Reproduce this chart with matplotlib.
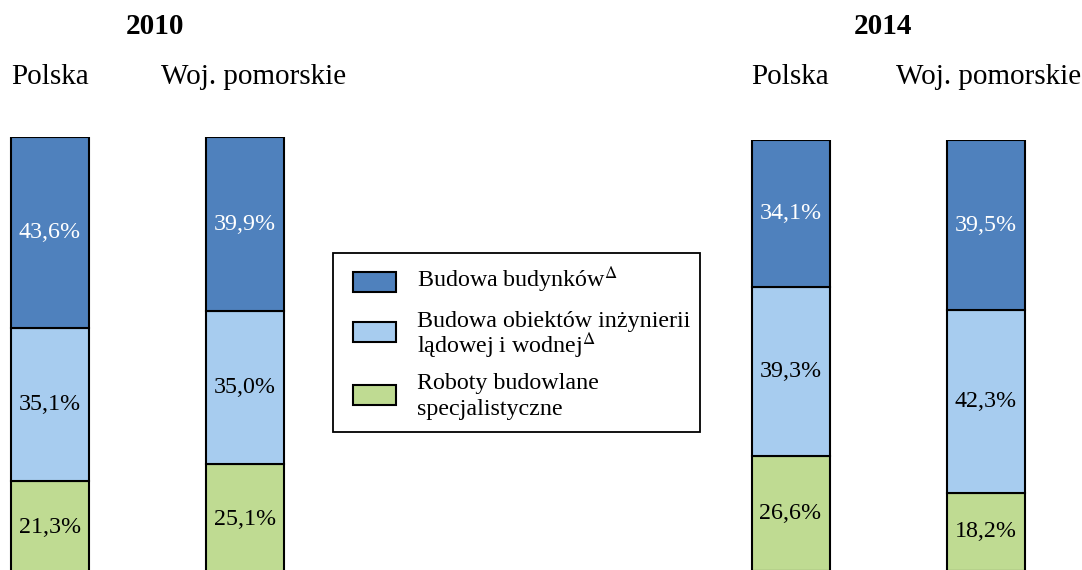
import numpy as np
import matplotlib
matplotlib.use('Agg')
import matplotlib.pyplot as plt
from matplotlib.patches import Rectangle

plt.rcParams['font.family'] = ['Liberation Serif', 'DejaVu Serif']
plt.rcParams['mathtext.fontset'] = 'stix'

# ── data ────────────────────────────────────────────────
years = ['2010', '2014']
regions = ['Polska', 'Woj. pomorskie']
categories = [
    'Roboty budowlane\nspecjalistyczne',
    'Budowa obiektów inżynierii\nlądowej i wodnej$^{\\Delta}$',
    'Budowa budynków$^{\\Delta}$',
]
# shares per year: rows = [Polska, Woj. pomorskie], cols = bottom -> top
shares_2010 = [[21.3, 35.1, 43.6],
               [25.1, 35.0, 39.9]]
shares_2014 = [[26.6, 39.3, 34.1],
               [18.2, 42.3, 39.5]]

colors = ['#BFDB92', '#A7CCEF', '#4F81BD']
text_colors = ['black', 'black', 'white']

W, H = 1082, 570
fig = plt.figure(figsize=(W / 100, H / 100), dpi=100)


def px_axes(left, top, right, bottom):
    return fig.add_axes([left / W, 1 - bottom / H, (right - left) / W, (bottom - top) / H])


def draw_group(ax, shares, first_center_px, ax_left_px, ax_right_px, step_px):
    x = np.arange(len(regions))
    base = np.zeros(len(regions))
    vals = np.array(shares)
    for k in range(len(categories)):
        ax.bar(x, vals[:, k], bottom=base, width=0.4, color=colors[k],
               edgecolor='black', linewidth=1.5)
        for i in x:
            ax.text(i, base[i] + vals[i, k] / 2, f'{vals[i, k]:.1f}%'.replace('.', ','),
                    ha='center', va='center', fontsize=17.3, color=text_colors[k])
        base += vals[:, k]
    ax.set_ylim(0, 100)
    ax.set_xlim((ax_left_px - first_center_px) / step_px,
                (ax_right_px - first_center_px) / step_px)
    ax.axis('off')


# 2010 group
ax1 = px_axes(0, 137, 420, 574)
draw_group(ax1, shares_2010, 50, 0, 420, 195)
# 2014 group
ax2 = px_axes(690, 140, 1082, 571)
draw_group(ax2, shares_2014, 790.5, 690, 1082, 195)

# headers
head_y = 1 - 27 / H
reg_y = 1 - 77 / H
fig.text(155 / W, head_y, years[0], ha='center', va='center', fontsize=21, fontweight='bold')
fig.text(883 / W, head_y, years[1], ha='center', va='center', fontsize=21, fontweight='bold')
for cx, name in zip([50, 254, 790, 989], regions * 2):
    fig.text(cx / W, reg_y, name, ha='center', va='center', fontsize=21)

# legend box
fig.patches.append(Rectangle((333 / W, 1 - 432 / H), 367 / W, 179 / H,
                             transform=fig.transFigure, facecolor='white',
                             edgecolor='black', linewidth=1.3))
patch_y = [282, 332, 395]
first_baseline = [287, 327, 389]
for k, yc, yb in zip([2, 1, 0], patch_y, first_baseline):
    fig.patches.append(Rectangle((353 / W, 1 - (yc + 10) / H), 43 / W, 20 / H,
                                 transform=fig.transFigure, facecolor=colors[k],
                                 edgecolor='black', linewidth=1.5))
    for j, line in enumerate(categories[k].split('\n')):
        fig.text(417 / W, 1 - (yb + 26 * j) / H, line, ha='left', va='baseline',
                 fontsize=17.3)

fig.savefig('out.png', dpi=100)
